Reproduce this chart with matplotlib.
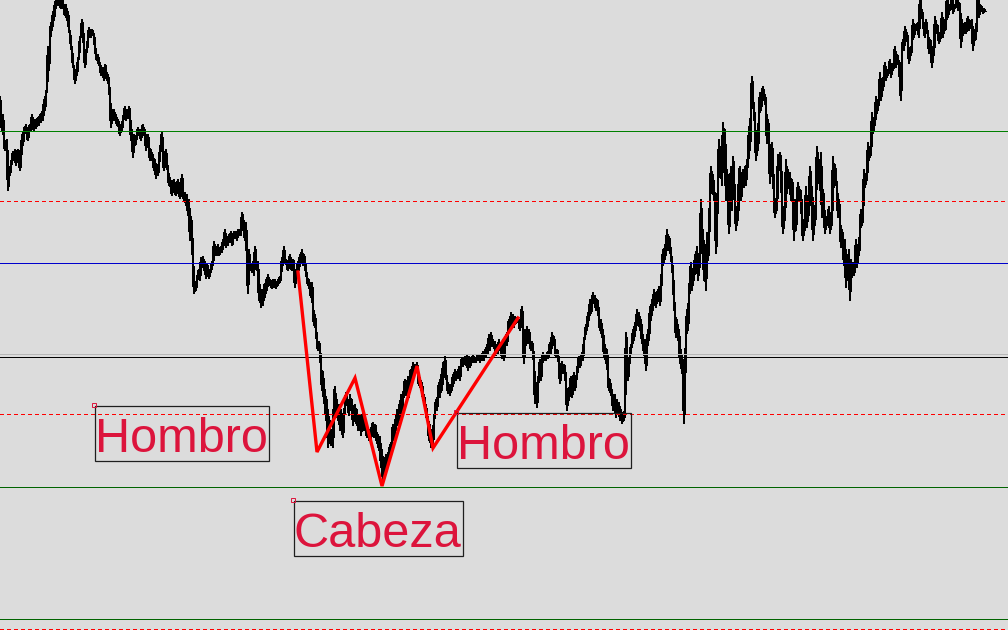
import numpy as np
import matplotlib
matplotlib.use("Agg")
import matplotlib.pyplot as plt
from matplotlib.patches import Rectangle

# close price per bar (chart units, one bar per pixel column)
price = [
    533, 515, 500, 515, 490, 480, 485, 490, 440, 457, 455, 465, 470, 478, 470, 480, 465, 475, 480, 475,
    460, 470, 495, 485, 502, 497, 505, 495, 490, 500, 505, 500, 515, 505, 500, 510, 502, 510, 512, 505,
    515, 508, 518, 510, 530, 520, 537, 540, 583, 560, 590, 607, 600, 618, 610, 628, 622, 634, 625, 634,
    624, 622, 634, 627, 620, 615, 625, 610, 618, 600, 597, 584, 580, 564, 563, 547, 560, 555, 570, 573,
    593, 593, 610, 600, 585, 563, 577, 580, 590, 602, 595, 593, 600, 597, 595, 583, 575, 570, 575, 565,
    567, 555, 560, 562, 550, 565, 560, 550, 555, 545, 533, 503, 520, 510, 520, 510, 515, 505, 510, 502,
    495, 505, 500, 510, 515, 523, 510, 518, 512, 523, 515, 490, 500, 473, 495, 485, 490, 495, 502, 495,
    500, 490, 502, 505, 495, 500, 480, 490, 495, 485, 470, 480, 470, 475, 460, 470, 452, 465, 455, 465,
    480, 485, 498, 473, 460, 470, 480, 465, 460, 445, 452, 442, 435, 445, 450, 440, 435, 442, 450, 440,
    432, 438, 455, 440, 430, 437, 425, 435, 415, 430, 390, 413, 397, 370, 337, 345, 340, 350, 355, 360,
    350, 372, 365, 373, 360, 368, 352, 365, 360, 352, 360, 358, 368, 365, 388, 375, 380, 375, 385, 375,
    380, 383, 378, 390, 385, 400, 383, 390, 385, 395, 390, 398, 385, 390, 398, 392, 398, 390, 400, 395,
    400, 395, 417, 410, 405, 390, 407, 370, 337, 380, 360, 365, 358, 368, 355, 383, 370, 360, 368, 330,
    345, 323, 340, 325, 345, 333, 350, 340, 355, 345, 350, 347, 342, 350, 343, 350, 342, 348, 345, 352,
    348, 355, 372, 365, 383, 368, 370, 365, 360, 368, 375, 365, 360, 370, 365, 343, 360, 355, 368, 360,
    375, 368, 380, 365, 375, 368, 358, 353, 345, 350, 340, 333, 347, 323, 305, 315, 300, 290, 280, 288,
    280, 265, 240, 258, 227, 240, 210, 230, 183, 213, 195, 185, 200, 183, 230, 243, 213, 230, 210, 225,
    200, 220, 205, 193, 215, 223, 237, 225, 230, 215, 235, 220, 230, 205, 220, 225, 207, 220, 200, 210,
    215, 195, 210, 217, 200, 210, 203, 193, 202, 190, 200, 190, 205, 207, 193, 205, 200, 187, 195, 180,
    193, 163, 180, 147, 170, 160, 175, 160, 177, 170, 185, 175, 190, 205, 190, 210, 200, 220, 205, 225,
    210, 235, 220, 230, 240, 250, 235, 237, 253, 233, 255, 260, 250, 267, 258, 265, 260, 267, 255, 245,
    252, 240, 247, 230, 235, 223, 225, 210, 213, 190, 205, 183, 195, 185, 210, 217, 230, 220, 235, 247,
    233, 255, 240, 267, 253, 273, 255, 250, 237, 245, 235, 245, 240, 255, 247, 260, 250, 258, 252, 263,
    250, 265, 272, 264, 270, 273, 265, 275, 260, 273, 263, 272, 268, 275, 268, 272, 268, 274, 270, 275,
    268, 274, 270, 278, 270, 280, 274, 285, 277, 295, 280, 297, 285, 290, 282, 288, 275, 285, 277, 290,
    280, 285, 272, 290, 270, 285, 295, 285, 300, 310, 300, 317, 305, 315, 303, 313, 307, 312, 308, 310,
    300, 310, 323, 300, 267, 300, 285, 303, 287, 300, 290, 280, 288, 282, 267, 227, 247, 223, 245, 255,
    270, 250, 265, 277, 270, 275, 270, 277, 272, 280, 287, 277, 297, 287, 293, 283, 273, 280, 275, 267,
    247, 260, 268, 257, 265, 260, 247, 220, 240, 230, 245, 253, 233, 245, 257, 240, 250, 255, 265, 273,
    263, 270, 277, 270, 290, 293, 305, 300, 317, 310, 330, 317, 325, 337, 327, 334, 320, 330, 325, 313,
    300, 310, 293, 300, 273, 285, 267, 280, 255, 240, 250, 235, 240, 220, 232, 235, 213, 230, 218, 227,
    210, 220, 207, 215, 210, 220, 297, 273, 250, 265, 273, 285, 283, 300, 290, 307, 300, 320, 310, 317,
    300, 310, 287, 295, 275, 290, 260, 280, 300, 290, 323, 310, 330, 320, 340, 330, 323, 338, 330, 343,
    325, 340, 360, 380, 367, 385, 375, 400, 380, 393, 385, 375, 367, 355, 330, 317, 293, 310, 290, 300,
    267, 280, 257, 270, 207, 250, 290, 320, 300, 333, 350, 367, 340, 360, 350, 375, 360, 383, 350, 370,
    363, 430, 390, 400, 350, 380, 340, 397, 370, 390, 430, 463, 440, 455, 430, 437, 377, 410, 443, 490,
    460, 475, 445, 507, 480, 500, 430, 460, 440, 397, 430, 463, 420, 473, 450, 430, 400, 420, 410, 455,
    463, 430, 445, 460, 443, 463, 445, 470, 463, 503, 480, 520, 553, 530, 520, 507, 470, 490, 480, 513,
    537, 520, 535, 543, 530, 535, 523, 487, 510, 495, 447, 480, 487, 460, 437, 413, 430, 420, 475, 460,
    477, 465, 430, 397, 420, 410, 470, 437, 460, 445, 457, 430, 450, 440, 390, 430, 400, 425, 447, 430,
    440, 435, 413, 390, 410, 400, 443, 403, 430, 415, 463, 440, 443, 390, 415, 405, 430, 483, 455, 470,
    440, 477, 413, 440, 425, 397, 413, 405, 410, 423, 397, 415, 405, 473, 443, 465, 450, 443, 413, 430,
    410, 383, 400, 390, 365, 390, 343, 375, 360, 380, 330, 370, 353, 367, 355, 365, 390, 363, 385, 375,
    397, 420, 405, 415, 460, 443, 455, 450, 487, 470, 480, 475, 517, 497, 510, 505, 533, 517, 530, 525,
    557, 530, 545, 540, 555, 567, 550, 560, 555, 562, 570, 553, 565, 560, 568, 583, 563, 575, 570, 565,
    550, 530, 577, 590, 580, 603, 590, 597, 587, 567, 580, 575, 585, 610, 593, 605, 600, 602, 607, 593,
    634, 613, 620, 610, 600, 593, 610, 600, 597, 577, 590, 585, 563, 583, 575, 613, 597, 605, 600, 587,
    595, 592, 617, 593, 610, 600, 605, 634, 613, 625, 620, 622, 634, 617, 625, 622, 624, 634, 620, 627,
    625, 583, 610, 595, 602, 607, 597, 605, 613, 600, 608, 605, 610, 580, 600, 590, 595, 610, 634, 613,
    625, 620, 623, 617, 621, 619,
]

# horizontal levels drawn on the chart
levels = [498.5, 428.5, 366.5, 275.5, 272.5, 215.5, 142.5, 10.5, 0.5]
level_colors = ['#008000', '#ff0000', '#0000cc', '#b8b8b8', '#000000',
                '#ff0000', '#006400', '#006400', '#ff0000']
level_styles = ['-', (0, (4, 3)), '-', '-', '-', (0, (4, 3)), '-', '-', (0, (4, 3))]

# head and shoulders zigzag
zigzag_bars = [298, 317, 355, 382, 417, 433, 518]
zigzag_price = [358, 178, 252, 144, 264, 182, 312]

# text labels (anchor = top left of the box)
labels = ['Hombro', 'Cabeza', 'Hombro']
label_bars = [95, 294, 457]
label_price = [224, 129, 217]

BOX_H = 55       # box height in chart units (1 unit = 1 px here)
BASELINE = 46    # distance box top -> text baseline

fig = plt.figure(figsize=(10.08, 6.3), dpi=100, facecolor='#dcdcdc')
ax = fig.add_axes([0, 0, 1, 1])
ax.set_xlim(0, 1008)
ax.set_ylim(0, 630)
ax.set_axis_off()

bars = np.arange(len(price))
ax.plot(bars, price, color='black', lw=1.15, antialiased=False, zorder=2)

for lvl, col, ls in zip(levels, level_colors, level_styles):
    ax.axhline(lvl, color=col, lw=0.72, linestyle=ls, snap=False, zorder=3)

ax.plot(zigzag_bars, zigzag_price, color='#ff0000', lw=2.4, zorder=4,
        solid_joinstyle='miter')

texts = []
for txt, xb, yp in zip(labels, label_bars, label_price):
    t = ax.text(xb, yp - BASELINE, txt, ha='left', va='baseline', fontsize=35,
                color='#dc143c', family='Liberation Sans', zorder=5)
    texts.append(t)
    ax.plot(xb - 1, yp + 1, marker='s', ms=2.5, mfc='none', mec='#dc143c',
            mew=0.7, zorder=6)

# frame around each label, sized from the rendered text
fig.canvas.draw()
renderer = fig.canvas.get_renderer()
inv = ax.transData.inverted()
for t, xb, yp in zip(texts, label_bars, label_price):
    bb = t.get_window_extent(renderer)
    right = inv.transform((bb.x1, bb.y1))[0]
    ax.add_patch(Rectangle((xb, yp - BOX_H), right - xb + 1, BOX_H,
                           fill=False, ec='#1e1e1e', lw=0.9, zorder=5))

fig.savefig('out.png', dpi=100, facecolor=fig.get_facecolor())
